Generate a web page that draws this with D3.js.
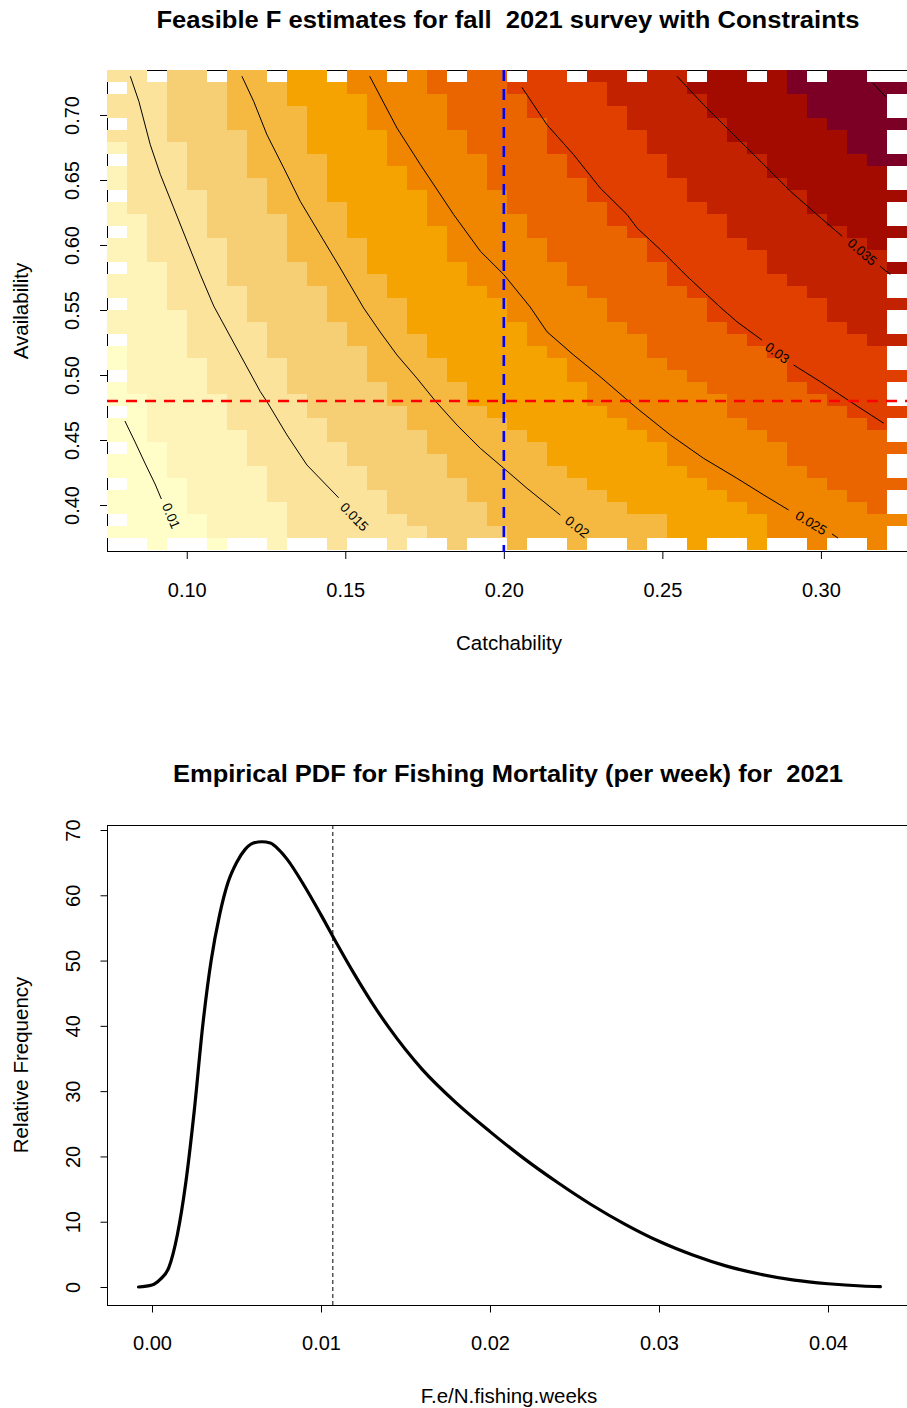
<!DOCTYPE html>
<html>
<head>
<meta charset="utf-8">
<script src="https://cdn.jsdelivr.net/npm/d3@7"></script>
<style>
  html, body { margin: 0; padding: 0; background: #ffffff; }
  svg { display: block; font-family: "Liberation Sans", Arial, sans-serif; }
  .keep-spaces { white-space: pre; }
</style>
</head>
<body>
<svg id="chart" width="907" height="1408"></svg>
<script>
// ---------------- Feasible F grid (catchability x availability) ----------------
const catchGrid = [0.0780, 0.0843, 0.0906, 0.0969, 0.1032, 0.1095, 0.1158, 0.1222, 0.1285, 0.1348,
                   0.1411, 0.1474, 0.1537, 0.1600, 0.1663, 0.1726, 0.1789, 0.1852, 0.1915, 0.1978,
                   0.2042, 0.2105, 0.2168, 0.2231, 0.2294, 0.2357, 0.2420, 0.2483, 0.2546, 0.2609,
                   0.2672, 0.2735, 0.2798, 0.2862, 0.2925, 0.2988, 0.3051, 0.3114, 0.3177, 0.3240];
// availability, listed from the top row (highest) down
const availGrid = [0.7300, 0.7208, 0.7115, 0.7023, 0.6931, 0.6838, 0.6746, 0.6654, 0.6562, 0.6469,
                   0.6377, 0.6285, 0.6192, 0.6100, 0.6008, 0.5915, 0.5823, 0.5731, 0.5638, 0.5546,
                   0.5454, 0.5362, 0.5269, 0.5177, 0.5085, 0.4992, 0.4900, 0.4808, 0.4715, 0.4623,
                   0.4531, 0.4438, 0.4346, 0.4254, 0.4162, 0.4069, 0.3977, 0.3885, 0.3792, 0.3700];

// For each colour class k (1..11) and each catchability column: how many rows,
// counted from the top, sit in class k or above.
const classEdge1  = [23,27,31,34,37,39,40,40,40,40,40,40,40,40,40,40,40,40,40,40,40,40,40,40,40,40,40,40,40,40,40,40,40,40,40,40,40,40,40,40];
const classEdge2  = [6,12,16,20,24,27,30,33,36,39,40,40,40,40,40,40,40,40,40,40,40,40,40,40,40,40,40,40,40,40,40,40,40,40,40,40,40,40,40,40];
const classEdge3  = [0,0,0,6,10,14,18,21,24,27,29,31,33,35,37,38,40,40,40,40,40,40,40,40,40,40,40,40,40,40,40,40,40,40,40,40,40,40,40,40];
const classEdge4  = [0,0,0,0,0,0,5,9,12,16,18,21,23,26,28,30,32,34,36,38,40,40,40,40,40,40,40,40,40,40,40,40,40,40,40,40,40,40,40,40];
const classEdge5  = [0,0,0,0,0,0,0,0,0,3,7,11,14,17,19,22,24,26,28,29,30,31,33,34,35,36,37,37,39,40,40,40,40,40,40,40,40,40,40,40];
const classEdge6  = [0,0,0,0,0,0,0,0,0,0,0,0,2,5,8,10,13,16,18,19,21,23,24,26,28,29,30,31,33,34,35,36,37,39,40,40,40,40,40,40];
const classEdge7  = [0,0,0,0,0,0,0,0,0,0,0,0,0,0,0,0,2,5,7,10,12,14,16,18,19,21,22,24,25,26,27,29,30,31,33,34,35,36,37,37];
const classEdge8  = [0,0,0,0,0,0,0,0,0,0,0,0,0,0,0,0,0,0,0,0,2,4,7,9,11,13,14,16,18,19,21,22,23,24,26,27,28,29,30,31];
const classEdge9  = [0,0,0,0,0,0,0,0,0,0,0,0,0,0,0,0,0,0,0,0,0,0,0,0,1,3,5,7,9,11,12,14,15,17,18,19,21,22,23,24];
const classEdge10 = [0,0,0,0,0,0,0,0,0,0,0,0,0,0,0,0,0,0,0,0,0,0,0,0,0,0,0,0,0,2,4,6,7,9,10,12,13,14,15,17];
const classEdge11 = [0,0,0,0,0,0,0,0,0,0,0,0,0,0,0,0,0,0,0,0,0,0,0,0,0,0,0,0,0,0,0,0,0,0,2,4,5,7,8,9];
const classEdges = [classEdge1, classEdge2, classEdge3, classEdge4, classEdge5, classEdge6,
                    classEdge7, classEdge8, classEdge9, classEdge10, classEdge11];

// cells removed by the constraints ('.' = removed) along the border of the grid
const maskTopRow    = "oo.oo.oo.oo.oo.oo.oo.oo.oo.oo.oo.oo.oo..";   // by column
const maskBottomRow = "..o..o..o..o..o..o..o..o..o..o..o..o..o.";   // by column
const maskLeftCol   = "o.oo.oo.oo.oo.oo.oo.oo.oo.oo.oo.oo.oo.oo";   // by row
const maskRightCol  = ".o..o..o..o..o..o..o..o..o..o..o..o..o..";   // by row

const heatColors = ["#FFFEC8", "#FEF3B9", "#FBE39B", "#F6CF74", "#F5B841", "#F4A300",
                    "#F08600", "#EA6500", "#E03F00", "#C22200", "#A30A00", "#7C0025"];

// iso-F lines, [catchability, availability]; a second piece follows the label gap
const contour010 = [[0.0805,0.4646],[0.0837,0.4485],[0.0868,0.4323],[0.0900,0.4162],[0.0920,0.4046]];
const contour015 = [[0.0822,0.7298],[0.0849,0.7105],[0.0885,0.6771],[0.0917,0.6541],[0.0959,0.6285],
                    [0.1001,0.6028],[0.1043,0.5772],[0.1085,0.5531],[0.1169,0.5154],[0.1232,0.4872],
                    [0.1253,0.4795],[0.1316,0.4539],[0.1379,0.4308],[0.1479,0.4056]];
const contour020 = [[0.1174,0.7298],[0.1211,0.7105],[0.1253,0.6848],[0.1306,0.6592],[0.1358,0.6336],
                    [0.1421,0.6079],[0.1484,0.5823],[0.1558,0.5515],[0.1610,0.5331],[0.1663,0.5154],
                    [0.1726,0.4975],[0.1784,0.4800],[0.1852,0.4616],[0.1926,0.4436],[0.2000,0.4282],
                    [0.2073,0.4129],[0.2178,0.3923]];
const contour025a = [[0.1577,0.7298],[0.1663,0.6900],[0.1737,0.6618],[0.1842,0.6233],[0.1926,0.5952],
                     [0.2000,0.5772],[0.2083,0.5523],[0.2136,0.5333],[0.2220,0.5154],[0.2304,0.4987],
                     [0.2389,0.4808],[0.2420,0.4744],[0.2525,0.4539],[0.2630,0.4359],[0.2735,0.4206],
                     [0.2820,0.4077],[0.2898,0.3962]];
const contour025b = [[0.3035,0.3777],[0.3054,0.3746]];
const contour030a = [[0.2057,0.7213],[0.2136,0.6925],[0.2220,0.6695],[0.2304,0.6438],[0.2389,0.6233],
                     [0.2420,0.6131],[0.2494,0.5964],[0.2578,0.5759],[0.2682,0.5523],[0.2735,0.5410],
                     [0.2814,0.5269]];
const contour030b = [[0.2914,0.5077],[0.2998,0.4949],[0.3093,0.4795],[0.3198,0.4629]];
const contour035a = [[0.2546,0.7298],[0.2630,0.7079],[0.2714,0.6875],[0.2820,0.6618],[0.2904,0.6413],
                     [0.2988,0.6233],[0.3067,0.6067]];
const contour035b = [[0.3187,0.5836],[0.3219,0.5772]];
const contour040  = [[0.3164,0.7246],[0.3206,0.7136]];

const contourPieces = [contour010, contour015, contour020, contour025a, contour025b,
                       contour030a, contour030b, contour035a, contour035b, contour040];
const contourLabels = ["0.01", "0.015", "0.02", "0.025", "0.03", "0.035"];
const contourLabelAt = [[0.0950,0.3916],[0.1528,0.3908],[0.2231,0.3831],[0.2969,0.3862],[0.2862,0.5169],[0.3130,0.5946]];
// the line piece whose direction each label follows
const contourLabelPiece = [contour010, contour015, contour020, contour025a, contour030a, contour035a];

const refCatchability = 0.20;
const refAvailability = 0.48;

const topXTicks = [0.10, 0.15, 0.20, 0.25, 0.30];
const topYTicks = [0.40, 0.45, 0.50, 0.55, 0.60, 0.65, 0.70];

// ---------------- empirical PDF of weekly fishing mortality ----------------
const fishingMortality = [-0.0008, 0.0000, 0.0005, 0.0010, 0.0015, 0.0020, 0.0025, 0.0030, 0.0035,
                          0.0040, 0.0045, 0.0050, 0.0055, 0.0060, 0.0065, 0.0070, 0.0075, 0.0080,
                          0.0090, 0.0100, 0.0110, 0.0120, 0.0130, 0.0140, 0.0160, 0.0180, 0.0200,
                          0.0220, 0.0240, 0.0260, 0.0280, 0.0300, 0.0320, 0.0340, 0.0360, 0.0380,
                          0.0400, 0.0420, 0.0431];
const relFrequency = [0.0, 0.3, 1.2, 3.0, 8.0, 16.0, 27.0, 40.0, 50.0,
                      57.0, 62.0, 65.0, 67.0, 68.0, 68.2, 68.0, 67.0, 65.5,
                      61.5, 57.0, 52.3, 47.8, 43.6, 39.8, 33.3, 28.2, 23.8,
                      19.7, 16.0, 12.6, 9.6, 7.0, 4.9, 3.2, 1.95, 1.05,
                      0.5, 0.15, 0.05];
const pointEstimateF = 0.0107;

const pdfXTicks = [0.00, 0.01, 0.02, 0.03, 0.04];
const pdfYTicks = [0, 10, 20, 30, 40, 50, 60, 70];

// ---------------- drawing ----------------
const svg = d3.select("#chart");

// ===== upper panel =====
const upper = { left: 107, right: 907, top: 70, bottom: 550 };
const xTop = d3.scaleLinear().domain([0.07485, 0.32715]).range([upper.left, upper.right]);
const yTop = d3.scaleLinear().domain([0.3654, 0.7346]).range([upper.bottom, upper.top]);

// frame drawn first: the coloured cells sit on top of it
svg.append("path")
  .attr("d", `M${upper.left + 0.5},${upper.bottom + 1.5}V${upper.top + 0.5}H${upper.right}`)
  .attr("fill", "none").attr("stroke", "#000").attr("stroke-width", 1);
svg.append("line")
  .attr("x1", upper.left).attr("x2", upper.right)
  .attr("y1", upper.bottom + 1.5).attr("y2", upper.bottom + 1.5)
  .attr("stroke", "#000").attr("stroke-width", 1);

// cell edges halfway between grid values
function cellEdges(vals) {
  const e = [];
  e.push(vals[0] - (vals[1] - vals[0]) / 2);
  for (let i = 1; i < vals.length; i++) e.push((vals[i - 1] + vals[i]) / 2);
  e.push(vals[vals.length - 1] + (vals[vals.length - 1] - vals[vals.length - 2]) / 2);
  return e;
}
const qEdges = cellEdges(catchGrid);
const aEdges = cellEdges(availGrid);   // descending

const nCol = catchGrid.length, nRow = availGrid.length;
const cells = [];
for (let c = 0; c < nCol; c++) {
  for (let r = 0; r < nRow; r++) {
    if (r === 0 && maskTopRow[c] === ".") continue;
    if (r === nRow - 1 && maskBottomRow[c] === ".") continue;
    if (c === 0 && maskLeftCol[r] === ".") continue;
    if (c === nCol - 1 && maskRightCol[r] === ".") continue;
    let k = 0;
    classEdges.forEach(edge => { if (r < edge[c]) k++; });
    cells.push({ c, r, k });
  }
}
svg.append("g").attr("shape-rendering", "crispEdges")
  .selectAll("rect").data(cells).join("rect")
  .attr("x", d => xTop(qEdges[d.c]))
  .attr("y", d => yTop(aEdges[d.r]))
  .attr("width", d => xTop(qEdges[d.c + 1]) - xTop(qEdges[d.c]))
  .attr("height", d => yTop(aEdges[d.r + 1]) - yTop(aEdges[d.r]))
  .attr("fill", d => heatColors[d.k]);

// contour lines
const contourLine = d3.line().x(d => xTop(d[0])).y(d => yTop(d[1])).curve(d3.curveLinear);
svg.append("g").selectAll("path").data(contourPieces).join("path")
  .attr("d", contourLine)
  .attr("fill", "none").attr("stroke", "#000").attr("stroke-width", 1);

svg.append("g").selectAll("text").data(contourLabels).join("text")
  .attr("transform", (d, i) => {
    const pts = contourLabelPiece[i];
    const p1 = pts[pts.length - 2], p2 = pts[pts.length - 1];
    const ang = Math.atan2(yTop(p2[1]) - yTop(p1[1]), xTop(p2[0]) - xTop(p1[0])) * 180 / Math.PI;
    return `translate(${xTop(contourLabelAt[i][0])},${yTop(contourLabelAt[i][1])}) rotate(${ang})`;
  })
  .attr("text-anchor", "middle").attr("dominant-baseline", "central")
  .attr("font-size", 13.5).attr("fill", "#000")
  .text(d => d);

// reference lines
svg.append("line")
  .attr("x1", xTop(refCatchability)).attr("x2", xTop(refCatchability))
  .attr("y1", upper.top).attr("y2", upper.bottom + 2)
  .attr("stroke", "#0000FF").attr("stroke-width", 2.6).attr("stroke-dasharray", "11,8");
svg.append("line")
  .attr("x1", upper.left).attr("x2", upper.right)
  .attr("y1", yTop(refAvailability)).attr("y2", yTop(refAvailability))
  .attr("stroke", "#FF0000").attr("stroke-width", 2.6).attr("stroke-dasharray", "11,8");

// axes
const topXAxis = svg.append("g").attr("transform", `translate(0,${upper.bottom + 2})`)
  .call(d3.axisBottom(xTop).tickValues(topXTicks).tickFormat(d3.format(".2f")).tickSize(7).tickPadding(24));
const topYAxis = svg.append("g").attr("transform", `translate(${upper.left},0)`)
  .call(d3.axisLeft(yTop).tickValues(topYTicks).tickFormat(d3.format(".2f")).tickSize(7));
[topXAxis, topYAxis].forEach(g => {
  g.select(".domain").remove();
  g.selectAll("line").attr("stroke", "#000");
  g.selectAll("text").attr("font-size", 20).attr("fill", "#000")
    .attr("font-family", "'Liberation Sans', Arial, sans-serif");
});
topYAxis.selectAll("text")
  .attr("x", null).attr("dy", null)
  .attr("text-anchor", "middle").attr("dominant-baseline", "central")
  .attr("transform", "translate(-35,0) rotate(-90)");

svg.append("text").attr("class", "keep-spaces").attr("x", 508).attr("y", 20)
  .attr("text-anchor", "middle").attr("dominant-baseline", "central")
  .attr("font-size", 23).attr("font-weight", "bold")
  .attr("textLength", 703).attr("lengthAdjust", "spacingAndGlyphs")
  .text("Feasible F estimates for fall  2021 survey with Constraints");
svg.append("text").attr("x", 509).attr("y", 642)
  .attr("text-anchor", "middle").attr("dominant-baseline", "central")
  .attr("font-size", 20.5).text("Catchability");
svg.append("text").attr("transform", "translate(20,311) rotate(-90)")
  .attr("text-anchor", "middle").attr("dominant-baseline", "central")
  .attr("font-size", 20.5).text("Availability");

// ===== lower panel =====
const lower = { left: 107, right: 907, top: 825, bottom: 1305 };
const xBot = d3.scaleLinear().domain([-0.002663, 0.044675]).range([lower.left, lower.right]);
const yBot = d3.scaleLinear().domain([-2.757, 70.766]).range([lower.bottom, lower.top]);

svg.append("rect")
  .attr("x", lower.left + 0.5).attr("y", lower.top + 0.5)
  .attr("width", lower.right - lower.left + 5).attr("height", lower.bottom - lower.top)
  .attr("fill", "none").attr("stroke", "#000").attr("stroke-width", 1);

const pdfPoints = fishingMortality.map((f, i) => [f, relFrequency[i]]);
svg.append("path").datum(pdfPoints)
  .attr("d", d3.line().x(d => xBot(d[0])).y(d => yBot(d[1])).curve(d3.curveMonotoneX))
  .attr("fill", "none").attr("stroke", "#000").attr("stroke-width", 3.2)
  .attr("stroke-linejoin", "round").attr("stroke-linecap", "round");

svg.append("line")
  .attr("x1", xBot(pointEstimateF)).attr("x2", xBot(pointEstimateF))
  .attr("y1", lower.top).attr("y2", lower.bottom)
  .attr("stroke", "#000").attr("stroke-width", 1).attr("stroke-dasharray", "4,3");

const botXAxis = svg.append("g").attr("transform", `translate(0,${lower.bottom + 0.5})`)
  .call(d3.axisBottom(xBot).tickValues(pdfXTicks).tickFormat(d3.format(".2f")).tickSize(7).tickPadding(23));
const botYAxis = svg.append("g").attr("transform", `translate(${lower.left + 0.5},0)`)
  .call(d3.axisLeft(yBot).tickValues(pdfYTicks).tickFormat(d3.format("d")).tickSize(7));
[botXAxis, botYAxis].forEach(g => {
  g.select(".domain").remove();
  g.selectAll("line").attr("stroke", "#000");
  g.selectAll("text").attr("font-size", 20).attr("fill", "#000")
    .attr("font-family", "'Liberation Sans', Arial, sans-serif");
});
botYAxis.selectAll("text")
  .attr("x", null).attr("dy", null)
  .attr("text-anchor", "middle").attr("dominant-baseline", "central")
  .attr("transform", "translate(-35,0) rotate(-90)");

svg.append("text").attr("class", "keep-spaces").attr("x", 508).attr("y", 774)
  .attr("text-anchor", "middle").attr("dominant-baseline", "central")
  .attr("font-size", 23).attr("font-weight", "bold")
  .attr("textLength", 670).attr("lengthAdjust", "spacingAndGlyphs")
  .text("Empirical PDF for Fishing Mortality (per week) for  2021");
svg.append("text").attr("x", 509).attr("y", 1395)
  .attr("text-anchor", "middle").attr("dominant-baseline", "central")
  .attr("font-size", 20.5).text("F.e/N.fishing.weeks");
svg.append("text").attr("transform", "translate(20,1065) rotate(-90)")
  .attr("text-anchor", "middle").attr("dominant-baseline", "central")
  .attr("font-size", 20.5).text("Relative Frequency");
</script>
</body>
</html>
